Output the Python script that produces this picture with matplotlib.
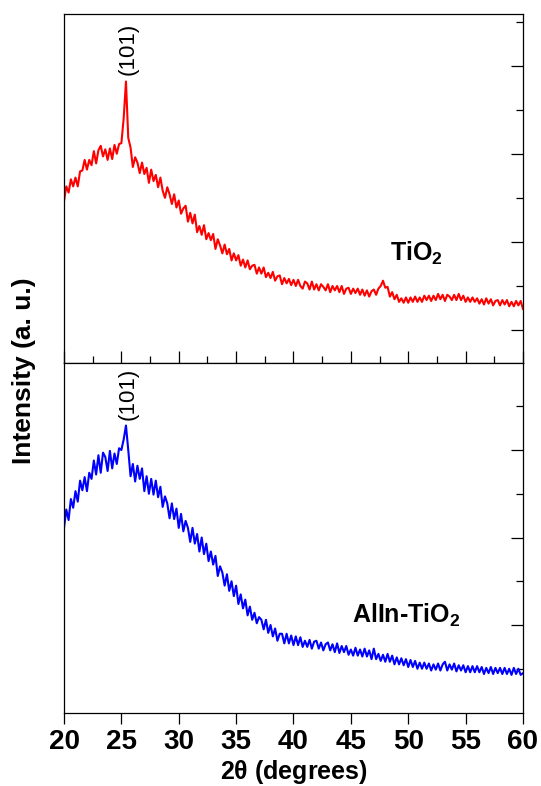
import numpy as np
import matplotlib
matplotlib.use("Agg")
import matplotlib.pyplot as plt

plt.rcParams['font.family'] = ['Liberation Sans', 'DejaVu Sans']
plt.rcParams['mathtext.fontset'] = 'custom'
plt.rcParams['mathtext.rm'] = 'Liberation Sans'
plt.rcParams['mathtext.bf'] = 'Liberation Sans:bold'

# 2-theta grid (0.2 deg steps, 20..60)
two_theta = np.linspace(20, 60, 201)

# TiO2 pattern (red, top panel)
tio2 = [
    546, 563, 556, 571, 563, 573, 563, 580, 581, 593,
    582, 593, 587, 603, 589, 604, 609, 597, 605, 593,
    606, 594, 610, 600, 611, 612, 640, 682, 618, 607,
    585, 596, 590, 578, 590, 577, 584, 567, 582, 569,
    576, 562, 573, 558, 550, 562, 554, 543, 554, 539,
    547, 532, 538, 541, 523, 533, 521, 531, 511, 518,
    508, 519, 503, 510, 502, 509, 492, 503, 496, 487,
    497, 486, 492, 479, 487, 479, 485, 473, 480, 471,
    479, 469, 473, 474, 464, 471, 464, 471, 460, 465,
    459, 466, 456, 461, 462, 452, 459, 453, 458, 451,
    457, 450, 457, 450, 447, 455, 453, 446, 455, 446,
    452, 445, 452, 449, 445, 452, 443, 450, 445, 450,
    443, 450, 441, 447, 448, 441, 447, 442, 447, 440,
    446, 439, 445, 438, 444, 446, 440, 447, 450, 456,
    448, 449, 438, 443, 435, 440, 432, 436, 431, 437,
    431, 437, 432, 438, 432, 437, 432, 439, 434, 439,
    433, 439, 434, 441, 435, 440, 433, 440, 438, 434,
    440, 434, 441, 434, 439, 432, 437, 432, 437, 432,
    436, 430, 435, 429, 436, 430, 435, 428, 433, 434,
    428, 434, 429, 434, 427, 432, 427, 433, 428, 433,
    424,
]

# AlIn-TiO2 pattern (blue, bottom panel)
alin_tio2 = [
    211, 232, 220, 244, 234, 253, 241, 265, 254, 269,
    253, 274, 267, 288, 272, 294, 274, 297, 292, 276,
    299, 279, 296, 284, 302, 300, 312, 328, 300, 270,
    284, 264, 282, 267, 279, 253, 270, 250, 267, 249,
    265, 246, 258, 235, 247, 239, 222, 239, 221, 233,
    211, 227, 207, 219, 211, 195, 211, 193, 204, 184,
    200, 181, 193, 173, 184, 169, 179, 156, 167, 160,
    145, 158, 139, 150, 133, 145, 124, 135, 119, 129,
    111, 121, 106, 114, 102, 109, 106, 95, 106, 91,
    100, 87, 96, 82, 90, 90, 79, 90, 79, 88,
    77, 87, 77, 86, 75, 82, 75, 83, 73, 81,
    82, 73, 80, 71, 78, 80, 71, 78, 69, 79,
    68, 76, 69, 76, 66, 72, 65, 74, 65, 72,
    64, 73, 64, 71, 61, 73, 61, 67, 59, 66,
    58, 67, 58, 65, 55, 63, 55, 62, 54, 61,
    52, 60, 52, 59, 50, 57, 50, 57, 50, 56,
    48, 55, 49, 56, 48, 55, 58, 48, 55, 49,
    56, 47, 54, 48, 54, 46, 53, 46, 53, 46,
    53, 46, 52, 44, 51, 45, 52, 44, 51, 45,
    51, 44, 51, 44, 50, 43, 51, 44, 50, 43,
    45,
]

x_ticks = [20, 25, 30, 35, 40, 45, 50, 55, 60]

fig = plt.figure(figsize=(5.41, 7.86), dpi=100)
ax_top = fig.add_axes([0.1183, 0.5388, 0.8484, 0.4428])
ax_bot = fig.add_axes([0.1183, 0.0935, 0.8484, 0.4453])

for ax in (ax_top, ax_bot):
    for sp in ax.spines.values():
        sp.set_linewidth(0.9)
    ax.set_xlim(20, 60)
    ax.tick_params(axis='y', which='both', left=False, right=True,
                   labelleft=False, direction='in', width=0.9)
    ax.tick_params(axis='y', which='major', length=9)
    ax.tick_params(axis='y', which='minor', length=5)

# top panel
ax_top.plot(two_theta, tio2, color='red', lw=1.5)
ax_top.set_ylim(363.2, 758)
ax_top.set_yticks([400, 500, 600, 700])
ax_top.set_yticks([450, 550, 650, 750], minor=True)
ax_top.set_xticks(x_ticks)
ax_top.set_xticks(np.arange(22.5, 60, 5), minor=True)
ax_top.tick_params(axis='x', which='both', direction='in', labelbottom=False,
                   width=0.9)
ax_top.tick_params(axis='x', which='major', length=9)
ax_top.tick_params(axis='x', which='minor', length=5)
ax_top.text(25.6, 689, '(101)', rotation=90, ha='center', va='bottom',
            fontsize=16)
ax_top.text(48.4, 479, r'TiO$_\mathbf{2}$', fontsize=18, fontweight='bold',
            ha='left', va='baseline')

# bottom panel
ax_bot.plot(two_theta, alin_tio2, color='blue', lw=1.5)
ax_bot.set_ylim(0, 400)
ax_bot.set_yticks([100, 200, 300])
ax_bot.set_yticks([50, 150, 250, 350], minor=True)
ax_bot.set_xticks(x_ticks)
ax_bot.tick_params(axis='x', which='major', direction='out', length=8,
                   width=0.9, labelsize=20, pad=4)
for lbl in ax_bot.get_xticklabels():
    lbl.set_fontweight('bold')
ax_bot.text(25.6, 334, '(101)', rotation=90, ha='center', va='bottom',
            fontsize=16)
ax_bot.text(45.1, 102, r'AlIn-TiO$_\mathbf{2}$', fontsize=18,
            fontweight='bold', ha='left', va='baseline')
ax_bot.set_xlabel(r'2$\mathbf{\theta}$ (degrees)', fontsize=18,
                  fontweight='bold', labelpad=2)

fig.text(0.044, 0.529, 'Intensity (a. u.)', rotation=90, fontsize=19,
         fontweight='bold', ha='center', va='center')

fig.savefig('out.png', dpi=100)
